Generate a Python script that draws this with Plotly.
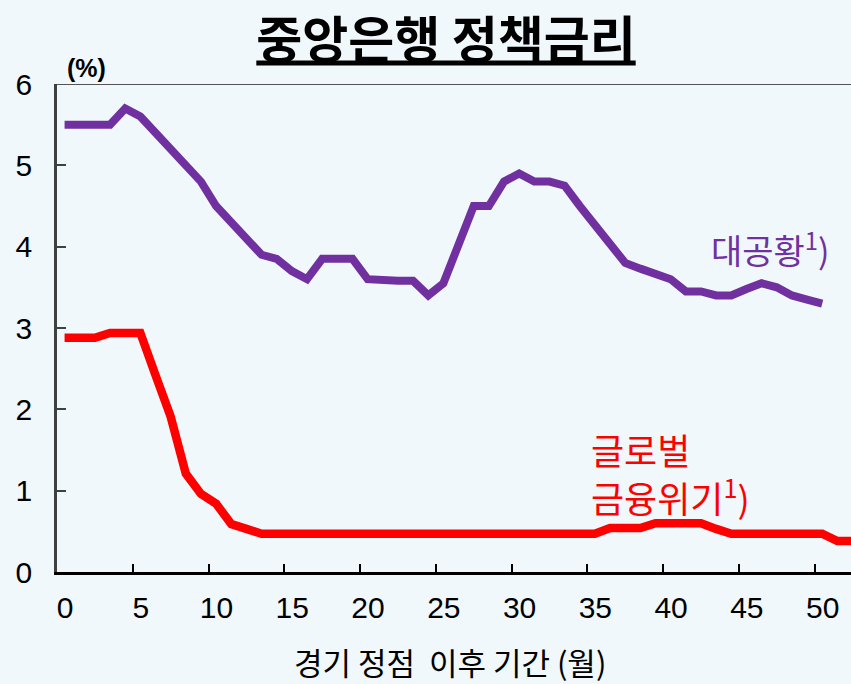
import plotly.graph_objects as go

# Months after the business-cycle peak
months_gd = list(range(0, 51))
great_depression = [
    5.5, 5.5, 5.5, 5.5, 5.7, 5.6, 5.4, 5.2, 5.0, 4.8,
    4.5, 4.3, 4.1, 3.9, 3.85, 3.7, 3.6, 3.85, 3.85, 3.85,
    3.6, 3.58, 3.58, 3.58, 3.4, 3.55, 4.0, 4.5, 4.5, 4.8,
    4.9, 4.8, 4.8, 4.75, 4.5, 4.27, 4.02, 3.8, 3.73, 3.67,
    3.6, 3.45, 3.45, 3.4, 3.4, 3.48, 3.55, 3.5, 3.4, 3.35,
    3.3,
]

months_gfc = list(range(0, 54))
global_crisis = [
    2.88, 2.88, 2.88, 2.94, 2.94, 2.94, 2.42, 1.91, 1.21, 0.96,
    0.84, 0.59, 0.53, 0.47, 0.47, 0.47, 0.47, 0.47, 0.47, 0.47,
    0.47, 0.47, 0.47, 0.47, 0.47, 0.47, 0.47, 0.47, 0.47, 0.47,
    0.47, 0.47, 0.47, 0.47, 0.47, 0.47, 0.54, 0.54, 0.54, 0.6,
    0.6, 0.6, 0.6, 0.53, 0.47, 0.47, 0.47, 0.47, 0.47, 0.47,
    0.47, 0.38, 0.38, 0.38,
]

x_tick_labels = ["0", "5", "10", "15", "20", "25", "30", "35", "40", "45", "50"]
x_tick_positions = [k * 5 - 0.5 for k in range(len(x_tick_labels))]
y_ticks = [0, 1, 2, 3, 4, 5, 6]

title_text = "중앙은행 정책금리"
x_title = "경기 정점  이후 기간 (월)"
y_unit = "(%)"
label_gd = "대공황<sup>1</sup>)"
label_gfc_1 = "글로벌"
label_gfc_2 = "금융위기<sup>1</sup>)"

PURPLE = "#7030A0"
RED = "#FF0000"
BG = "#F0F8FB"
KFONT = "Noto Sans CJK KR"
NFONT = "Liberation Sans, Arial"

fig = go.Figure()
fig.add_trace(go.Scatter(
    x=months_gd, y=great_depression, mode="lines",
    line=dict(color=PURPLE, width=8), showlegend=False,
))
fig.add_trace(go.Scatter(
    x=months_gfc, y=global_crisis, mode="lines",
    line=dict(color=RED, width=8.5), showlegend=False,
))

PLOT_H = 684 - 84 - 112

fig.update_layout(
    width=851, height=684,
    paper_bgcolor=BG, plot_bgcolor=BG,
    margin=dict(l=57, r=0, t=84, b=112),
    title=dict(
        text="<b><u>" + title_text + "</u></b>",
        font=dict(family=KFONT, size=50, color="black"),
        x=446 / 851, xanchor="center", xref="container",
        y=1 - 40 / 684, yanchor="middle", yref="container",
    ),
    xaxis=dict(
        range=[-0.5, 51.9], automargin=False,
        tickmode="array", tickvals=x_tick_positions, ticktext=x_tick_labels,
        ticklabelshift=8,
        ticks="inside", ticklen=8, tickwidth=2, tickcolor="black",
        showline=True, linecolor="black", linewidth=2.5,
        showgrid=False, zeroline=False,
        tickfont=dict(family=NFONT, size=30, color="black"),
        ticklabelstandoff=7,
    ),
    yaxis=dict(
        range=[0, 6], automargin=False,
        tickmode="array", tickvals=y_ticks,
        ticks="inside", ticklen=9, tickwidth=2, tickcolor="#404040",
        showline=True, linecolor="#404040", linewidth=2.5,
        showgrid=False, zeroline=False,
        tickfont=dict(family=NFONT, size=30, color="black"),
        ticklabelstandoff=16,
    ),
    shapes=[dict(
        type="line", xref="paper", yref="y", x0=0, x1=1, y0=6, y1=6,
        line=dict(color="#555555", width=2),
    )],
    annotations=[
        dict(text="<b>" + y_unit + "</b>", xref="paper", yref="paper",
             x=(86 - 57) / 794, y=1 + 16 / PLOT_H, xanchor="center", yanchor="middle",
             showarrow=False, font=dict(family=NFONT, size=25, color="black")),
        dict(text=x_title, xref="paper", yref="paper",
             x=(450 - 57) / 794, y=-(661 - 572) / PLOT_H, xanchor="center", yanchor="middle",
             showarrow=False, font=dict(family=KFONT, size=31, color="black")),
        dict(text=label_gd, xref="x", yref="y", x=42.5, y=3.98,
             xanchor="left", yanchor="middle", showarrow=False,
             font=dict(family=KFONT, size=34, color=PURPLE)),
        dict(text=label_gfc_1, xref="x", yref="y", x=34.6, y=1.51,
             xanchor="left", yanchor="middle", showarrow=False,
             font=dict(family=KFONT, size=36, color=RED)),
        dict(text=label_gfc_2, xref="x", yref="y", x=34.6, y=0.93,
             xanchor="left", yanchor="middle", showarrow=False,
             font=dict(family=KFONT, size=36, color=RED)),
    ],
)

fig.write_html(
    "out.html",
    config={"displayModeBar": False},
    post_script="document.body.style.margin='0';document.body.style.padding='0';"
                "document.body.style.overflow='hidden';",
)
